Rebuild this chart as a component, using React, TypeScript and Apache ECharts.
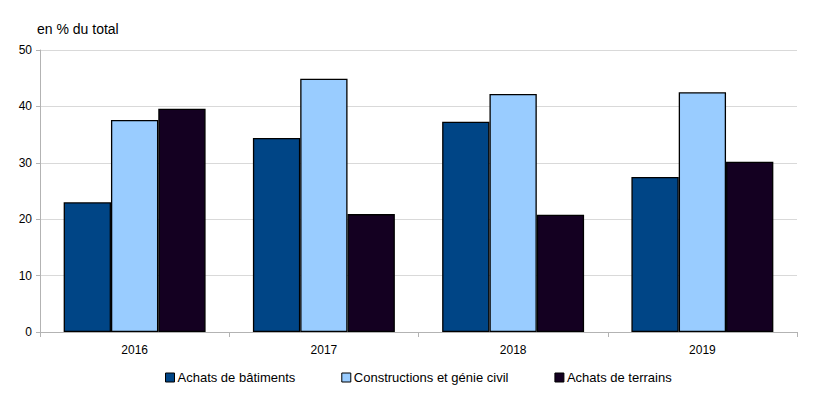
import React, { useEffect, useRef } from "react";
import * as echarts from "echarts";

const categories = ["2016", "2017", "2018", "2019"];
const batiments = [23.0, 34.4, 37.3, 27.5];
const constructions = [37.6, 44.9, 42.2, 42.5];
const terrains = [39.6, 20.9, 20.8, 30.2];
const seriesNames = ["Achats de bâtiments", "Constructions et génie civil", "Achats de terrains"];
const seriesColors = ["#004586", "#99ccff", "#140021"];

export default function App() {
  const ref = useRef<HTMLDivElement>(null);
  useEffect(() => {
    if (!ref.current) return;
    const chart = echarts.init(ref.current, null, { renderer: "svg" });
    const font = "'Liberation Sans', Arial, sans-serif";
    const data = [batiments, constructions, terrains];
    chart.setOption({
      animation: false,
      grid: { left: 40, right: 16, top: 50, bottom: 62 },
      graphic: [
        {
          type: "text",
          left: 37,
          top: 22,
          style: { text: "en % du total", font: `14px ${font}`, fill: "#000" },
        },
      ],
      legend: {
        bottom: 5,
        left: 160,
        itemWidth: 9,
        itemHeight: 9,
        itemGap: 46,
        icon: "rect",
        textStyle: { fontFamily: font, fontSize: 13, color: "#000", padding: [0, 0, 0, -2] },
        itemStyle: { borderColor: "#000", borderWidth: 1 },
        data: seriesNames,
      },
      xAxis: {
        type: "category",
        data: categories,
        axisLine: { lineStyle: { color: "#b3b3b3" } },
        axisTick: { show: true, length: 5, lineStyle: { color: "#b3b3b3" } },
        axisLabel: { fontFamily: font, fontSize: 12, color: "#000", margin: 12 },
      },
      yAxis: {
        type: "value",
        min: 0,
        max: 50,
        interval: 10,
        axisLine: { show: true, lineStyle: { color: "#b3b3b3" } },
        axisTick: { show: true, length: 4, lineStyle: { color: "#b3b3b3" } },
        axisLabel: { fontFamily: font, fontSize: 12, color: "#000", margin: 8 },
        splitLine: { lineStyle: { color: "#d9d9d9" } },
      },
      series: seriesNames.map((name, i) => ({
        name,
        type: "bar",
        data: data[i],
        barGap: "0%",
        barCategoryGap: "25%",
        itemStyle: { color: seriesColors[i], borderColor: "#000", borderWidth: 1.3 },
      })),
    });
    return () => chart.dispose();
  }, []);
  return <div ref={ref} style={{ width: 813, height: 394, margin: -8 }} />;
}
